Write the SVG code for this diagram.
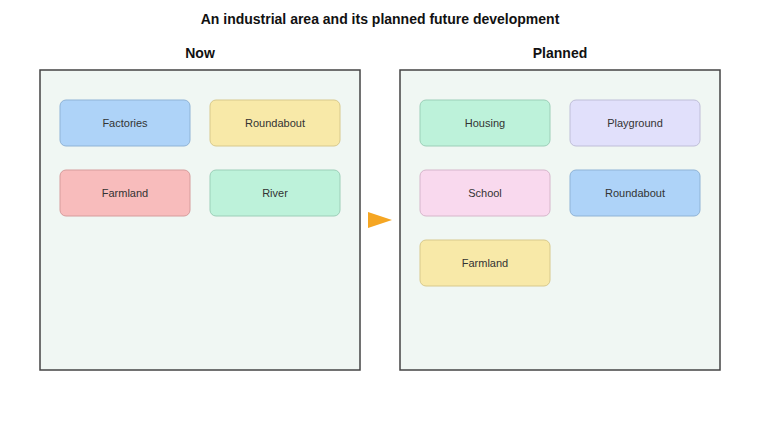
<svg xmlns="http://www.w3.org/2000/svg" width="760" height="440" viewBox="0 0 760 440">
<style>
text{font-family:"Liberation Sans",Arial,sans-serif;text-anchor:middle;dominant-baseline:central}
.t{font-size:14px;font-weight:bold;fill:#111}
.n{font-size:11px;fill:#333}
.panel{fill:#f0f7f3;stroke:#444;stroke-width:1.5}
.b{stroke-width:1;rx:6}
</style>
<rect width="760" height="440" fill="#fff"/>
<text class="t" x="380" y="19">An industrial area and its planned future development</text>
<g id="now">
<text class="t" x="200" y="53">Now</text>
<rect class="panel" x="40" y="70" width="320" height="300"/>
</g>
<g id="planned">
<text class="t" x="560" y="53">Planned</text>
<rect class="panel" x="400" y="70" width="320" height="300"/>
</g>
<g id="now-factories"><rect class="b" x="60" y="100" width="130" height="46" fill="#aed3f8" stroke="#8fb3d6"/><text class="n" x="125" y="123">Factories</text></g>
<g id="now-roundabout"><rect class="b" x="210" y="100" width="130" height="46" fill="#f8e9a8" stroke="#d8c98c"/><text class="n" x="275" y="123">Roundabout</text></g>
<g id="now-farmland"><rect class="b" x="60" y="170" width="130" height="46" fill="#f8bcbc" stroke="#d69c9c"/><text class="n" x="125" y="193">Farmland</text></g>
<g id="now-river"><rect class="b" x="210" y="170" width="130" height="46" fill="#bdf2da" stroke="#9ccfb8"/><text class="n" x="275" y="193">River</text></g>
<g id="p-housing"><rect class="b" x="420" y="100" width="130" height="46" fill="#bdf2da" stroke="#9ccfb8"/><text class="n" x="485" y="123">Housing</text></g>
<g id="p-playground"><rect class="b" x="570" y="100" width="130" height="46" fill="#e1e0fb" stroke="#bfbed8"/><text class="n" x="635" y="123">Playground</text></g>
<g id="p-school"><rect class="b" x="420" y="170" width="130" height="46" fill="#f9d9ee" stroke="#d6b6cb"/><text class="n" x="485" y="193">School</text></g>
<g id="p-roundabout"><rect class="b" x="570" y="170" width="130" height="46" fill="#aed3f8" stroke="#8fb3d6"/><text class="n" x="635" y="193">Roundabout</text></g>
<g id="p-farmland"><rect class="b" x="420" y="240" width="130" height="46" fill="#f8e9a8" stroke="#d8c98c"/><text class="n" x="485" y="263">Farmland</text></g>
<g id="connectors"><polygon points="368,212 392,220 368,228" fill="#f5a623"/></g>
</svg>
